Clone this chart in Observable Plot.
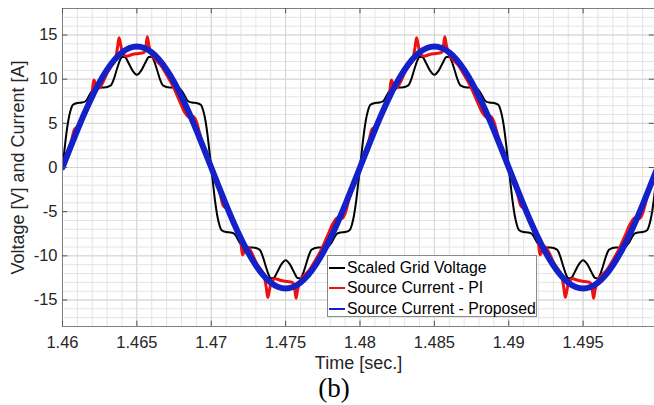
<!DOCTYPE html>
<html><head><meta charset="utf-8">
<script src="https://cdn.jsdelivr.net/npm/d3@7"></script>
<script src="https://cdn.jsdelivr.net/npm/@observablehq/plot@0.6"></script>
<style>
body{margin:0;background:#fff;}
#wrap{position:relative;width:654px;height:405px;overflow:hidden;font-family:"Liberation Sans",Arial,sans-serif;}
#legend{position:absolute;left:327px;top:255px;width:210px;height:62px;border:1px solid #8a8a8a;background:#fff;box-sizing:border-box;font-size:15.8px;color:#000;}
.row{position:absolute;left:1px;height:20px;display:flex;align-items:center;white-space:nowrap;}
.sw{display:inline-block;width:16px;height:2px;margin-right:2px;}
#cap{position:absolute;left:7px;width:654px;text-align:center;top:373px;font-family:"Liberation Serif","Times New Roman",serif;font-size:27px;color:#000;}
</style></head><body><div id="wrap"><div id="chart"></div><div id="legend"></div><div id="cap">(b)</div></div>
<script>
// ---- data (time in ms after 1.46 s) ----
const t0 = 1.46;
const seriesNames = ["Scaled Grid Voltage","Source Current - PI","Source Current - Proposed"];
const seriesColors = ["#000000","#ee1111","#1420c8"];

const blackMs = [0,0.12,0.25,0.4,0.55,0.7,1,1.3,1.55,1.75,1.95,2.15,2.35,2.8,3.25,3.45,3.65,3.85,4,4.2,4.45,4.7,5,5.3,5.55,5.8,6,6.15,6.35,6.55,6.75,7.2,7.65,7.85,8.05,8.25,8.45,8.7,9,9.3,9.45,9.6,9.75,9.88,
10,10.12,10.25,10.4,10.55,10.7,11,11.3,11.55,11.75,11.95,12.15,12.35,12.8,13.25,13.45,13.65,13.85,14,14.2,14.45,14.7,15,15.3,15.55,15.8,16,16.15,16.35,16.55,16.75,17.2,17.65,17.85,18.05,18.25,18.45,18.7,19,19.3,19.45,19.6,19.75,19.88,
20,20.12,20.25,20.4,20.55,20.7,21,21.3,21.55,21.75,21.95,22.15,22.35,22.8,23.25,23.45,23.65,23.85,24,24.2,24.45,24.7,25,25.3,25.55,25.8,26,26.15,26.35,26.55,26.75,27.2,27.65,27.85,28.05,28.25,28.45,28.7,29,29.3,29.45,29.6,29.75,29.88,
30,30.12,30.25,30.4,30.55,30.7,31,31.3,31.55,31.75,31.95,32.15,32.35,32.8,33.25,33.45,33.65,33.85,34,34.2,34.45,34.7,35,35.3,35.55,35.8,36,36.15,36.35,36.55,36.75,37.2,37.65,37.85,38.05,38.25,38.45,38.7,39,39.3,39.45,39.6,39.75,39.88,40];
const blackV = [0,1.8,3.7,5.4,6.5,7.1,7.3,7.35,7.5,8.0,8.6,8.95,9.05,9.05,9.3,10.0,11.1,12.1,12.55,12.5,11.8,11.0,10.5,11.0,11.8,12.5,12.55,12.1,11.1,10.0,9.3,9.05,9.05,8.95,8.6,8.0,7.5,7.35,7.3,7.1,6.5,5.4,3.7,1.8,
0,-1.8,-3.7,-5.4,-6.5,-7.1,-7.3,-7.35,-7.5,-8.0,-8.6,-8.95,-9.05,-9.05,-9.3,-10.0,-11.1,-12.1,-12.55,-12.5,-11.8,-11.0,-10.5,-11.0,-11.8,-12.5,-12.55,-12.1,-11.1,-10.0,-9.3,-9.05,-9.05,-8.95,-8.6,-8.0,-7.5,-7.35,-7.3,-7.1,-6.5,-5.4,-3.7,-1.8,
0,1.8,3.7,5.4,6.5,7.1,7.3,7.35,7.5,8.0,8.6,8.95,9.05,9.05,9.3,10.0,11.1,12.1,12.55,12.5,11.8,11.0,10.5,11.0,11.8,12.5,12.55,12.1,11.1,10.0,9.3,9.05,9.05,8.95,8.6,8.0,7.5,7.35,7.3,7.1,6.5,5.4,3.7,1.8,
0,-1.8,-3.7,-5.4,-6.5,-7.1,-7.3,-7.35,-7.5,-8.0,-8.6,-8.95,-9.05,-9.05,-9.3,-10.0,-11.1,-12.1,-12.55,-12.5,-11.8,-11.0,-10.5,-11.0,-11.8,-12.5,-12.55,-12.1,-11.1,-10.0,-9.3,-9.05,-9.05,-8.95,-8.6,-8.0,-7.5,-7.35,-7.3,-7.1,-6.5,-5.4,-3.7,-1.8,0];

const redMs = [0,0.3,0.6,0.8,1,1.2,1.5,1.8,2,2.1,2.25,2.45,2.7,3,3.3,3.55,3.7,3.8,3.9,4.05,4.3,4.7,5.1,5.45,5.6,5.7,5.8,5.95,6.2,6.6,7,7.4,7.8,8.2,8.5,8.75,9,9.2,9.4,9.7,
10,10.3,10.6,10.8,11,11.2,11.5,11.8,12,12.1,12.25,12.45,12.7,13,13.3,13.55,13.7,13.8,13.9,14.05,14.3,14.7,15.1,15.45,15.6,15.7,15.8,15.95,16.2,16.6,17,17.4,17.8,18.2,18.5,18.75,19,19.2,19.4,19.7,
20,20.3,20.6,20.8,21,21.2,21.5,21.8,22,22.1,22.25,22.45,22.7,23,23.3,23.55,23.7,23.8,23.9,24.05,24.3,24.7,25.1,25.45,25.6,25.7,25.8,25.95,26.2,26.6,27,27.4,27.8,28.2,28.5,28.75,29,29.2,29.4,29.7,
30,30.3,30.6,30.8,31,31.2,31.5,31.8,32,32.1,32.25,32.45,32.7,33,33.3,33.55,33.7,33.8,33.9,34.05,34.3,34.7,35.1,35.45,35.6,35.7,35.8,35.95,36.2,36.6,37,37.4,37.8,38.2,38.5,38.75,39,39.2,39.4,39.7,40];
const redV = [0,1.3,3.0,4.3,4.6,5.1,6.1,7.4,8.6,9.9,9.4,9.0,9.6,10.7,11.5,12.2,13.6,14.7,14.0,12.9,12.6,12.8,12.9,13.0,13.6,14.8,13.9,12.9,12.3,11.6,10.5,9.3,7.8,6.3,5.7,5.8,5.2,4.0,2.8,1.3,
0,-1.3,-3.0,-4.3,-4.6,-5.1,-6.1,-7.4,-8.6,-9.9,-9.4,-9.0,-9.6,-10.7,-11.5,-12.2,-13.6,-14.7,-14.0,-12.9,-12.6,-12.8,-12.9,-13.0,-13.6,-14.8,-13.9,-12.9,-12.3,-11.6,-10.5,-9.3,-7.8,-6.3,-5.7,-5.8,-5.2,-4.0,-2.8,-1.3,
0,1.3,3.0,4.3,4.6,5.1,6.1,7.4,8.6,9.9,9.4,9.0,9.6,10.7,11.5,12.2,13.6,14.7,14.0,12.9,12.6,12.8,12.9,13.0,13.6,14.8,13.9,12.9,12.3,11.6,10.5,9.3,7.8,6.3,5.7,5.8,5.2,4.0,2.8,1.3,
0,-1.3,-3.0,-4.3,-4.6,-5.1,-6.1,-7.4,-8.6,-9.9,-9.4,-9.0,-9.6,-10.7,-11.5,-12.2,-13.6,-14.7,-14.0,-12.9,-12.6,-12.8,-12.9,-13.0,-13.6,-14.8,-13.9,-12.9,-12.3,-11.6,-10.5,-9.3,-7.8,-6.3,-5.7,-5.8,-5.2,-4.0,-2.8,-1.3,0];

const blueMs = [0,0.5,1,1.5,2,2.5,3,3.5,4,4.5,5,5.5,6,6.5,7,7.5,8,8.5,9,9.5,
10,10.5,11,11.5,12,12.5,13,13.5,14,14.5,15,15.5,16,16.5,17,17.5,18,18.5,19,19.5,
20,20.5,21,21.5,22,22.5,23,23.5,24,24.5,25,25.5,26,26.5,27,27.5,28,28.5,29,29.5,
30,30.5,31,31.5,32,32.5,33,33.5,34,34.5,35,35.5,36,36.5,37,37.5,38,38.5,39,39.5,40];
const blueV = [0,2.14,4.23,6.22,8.05,9.69,11.08,12.21,13.03,13.53,13.7,13.53,13.03,12.21,11.08,9.69,8.05,6.22,4.23,2.14,
0,-2.14,-4.23,-6.22,-8.05,-9.69,-11.08,-12.21,-13.03,-13.53,-13.7,-13.53,-13.03,-12.21,-11.08,-9.69,-8.05,-6.22,-4.23,-2.14,
0,2.14,4.23,6.22,8.05,9.69,11.08,12.21,13.03,13.53,13.7,13.53,13.03,12.21,11.08,9.69,8.05,6.22,4.23,2.14,
0,-2.14,-4.23,-6.22,-8.05,-9.69,-11.08,-12.21,-13.03,-13.53,-13.7,-13.53,-13.03,-12.21,-11.08,-9.69,-8.05,-6.22,-4.23,-2.14,0];

const xTicks = [1.46,1.465,1.47,1.475,1.48,1.485,1.49,1.495];
const xTickLabels = ["1.46","1.465","1.47","1.475","1.48","1.485","1.49","1.495"];
const yTicks = [-15,-10,-5,0,5,10,15];
const yTickLabels = ["-15","-10","-5","0","5","10","15"];
const xLabel = "Time [sec.]";
const yLabel = "Voltage [V] and Current [A]";

// ---- build ----
const xDomain = [1.46, 1.4998], yDomain = [-18, 18];
const minorX = d3.range(1461, 1500).map(d => d / 1000);
const minorY = d3.range(-17, 18);
const rows = (ms, v) => ms.map((m, i) => ({t: t0 + m / 1000, v: v[i]}));

const chart = Plot.plot({
  width: 654, height: 372,
  marginLeft: 62, marginRight: 0, marginTop: 8, marginBottom: 46,
  style: {fontFamily: "Liberation Sans, Arial, sans-serif", fontSize: "16.5px", color: "#262626", background: "#fff", overflow: "visible"},
  x: {domain: xDomain, ticks: xTicks, tickFormat: d => xTickLabels[xTicks.indexOf(d)], tickSize: 0, tickPadding: 10, label: null},
  y: {domain: yDomain, ticks: yTicks, tickFormat: d => yTickLabels[yTicks.indexOf(d)], tickSize: 0, tickPadding: 5, label: null},
  marks: [
    Plot.ruleX(minorX, {stroke: "#e4e4e4", strokeOpacity: 1}),
    Plot.ruleY(minorY, {stroke: "#e4e4e4", strokeOpacity: 1}),
    Plot.ruleX(xTicks, {stroke: "#d4d4d4", strokeOpacity: 1}),
    Plot.ruleY(yTicks, {stroke: "#d4d4d4", strokeOpacity: 1}),
    Plot.line(rows(blackMs, blackV), {x: "t", y: "v", stroke: seriesColors[0], strokeWidth: 2, curve: "monotone-x", clip: true}),
    Plot.line(rows(redMs, redV), {x: "t", y: "v", stroke: seriesColors[1], strokeWidth: 3, curve: "monotone-x", clip: true}),
    Plot.line(rows(blueMs, blueV), {x: "t", y: "v", stroke: seriesColors[2], strokeWidth: 6, curve: "catmull-rom", clip: true}),
    Plot.ruleX([xDomain[0]], {stroke: "#808080"}),
    Plot.ruleY([yDomain[0], yDomain[1]], {stroke: "#808080"}),
    Plot.ruleX(xTicks, {y1: yDomain[0], y2: yDomain[0] + 0.6, stroke: "#555"}),
    Plot.ruleX(xTicks, {y1: yDomain[1], y2: yDomain[1] - 0.6, stroke: "#555"}),
    Plot.ruleY(yTicks, {x1: xDomain[0], x2: xDomain[0] + 0.00035, stroke: "#555"}),
    Plot.ruleY(yTicks, {x1: xDomain[1] - 0.00035, x2: xDomain[1], stroke: "#555"}),
    Plot.text([xLabel], {frameAnchor: "bottom", lineAnchor: "middle", textAnchor: "middle", dy: 37, fontSize: 18, fill: "#262626"}),
    Plot.text([yLabel], {frameAnchor: "left", lineAnchor: "middle", textAnchor: "middle", dx: -44, rotate: -90, fontSize: 18, fill: "#262626"})
  ]
});
document.getElementById("chart").append(chart);

// ---- legend ----
const lg = document.getElementById("legend");
const tops = [2, 22, 43];
seriesNames.forEach((name, i) => {
  const r = document.createElement("div");
  r.className = "row";
  r.style.top = tops[i] + "px";
  const s = document.createElement("span");
  s.className = "sw";
  s.style.background = seriesColors[i];
  r.append(s, document.createTextNode(name));
  lg.append(r);
});
</script></body></html>
